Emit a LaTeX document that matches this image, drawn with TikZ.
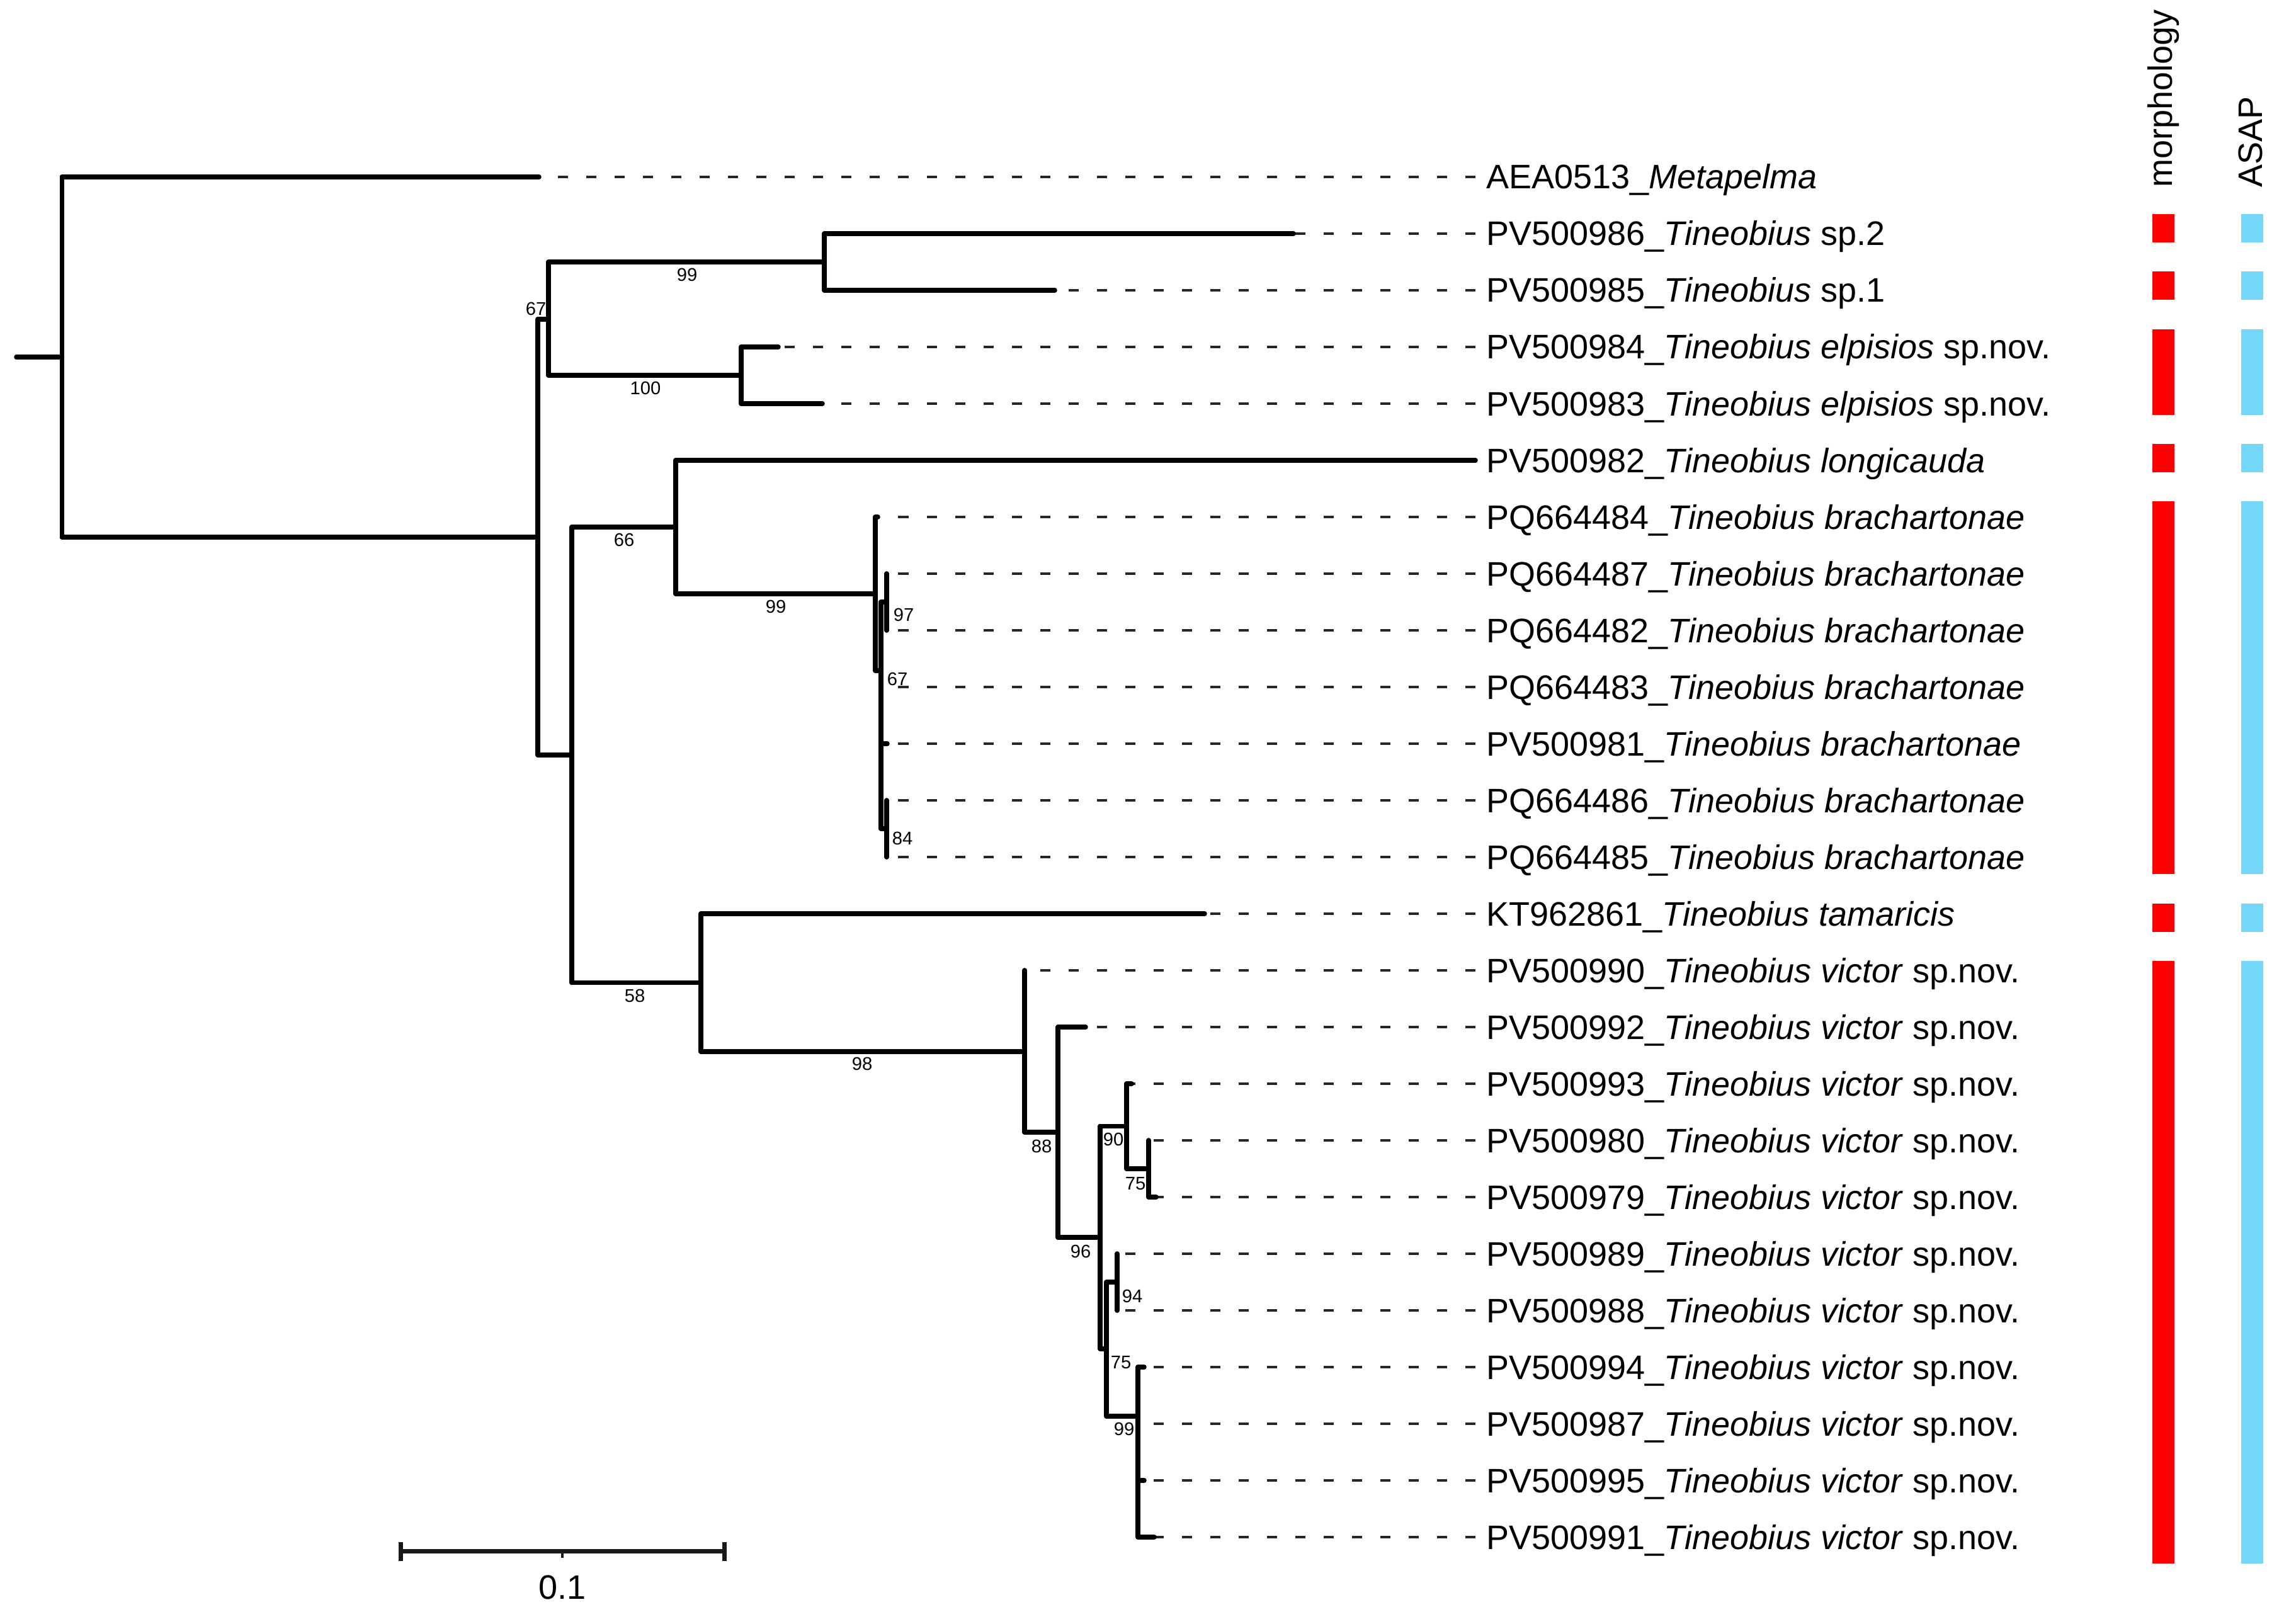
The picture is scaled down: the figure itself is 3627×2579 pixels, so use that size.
\documentclass[tikz,border=0pt]{standalone}
\usepackage{fontspec}
\setmainfont{Liberation Sans}
\definecolor{morphred}{RGB}{255,0,0}
\definecolor{asapblue}{RGB}{115,215,250}
\tikzset{
  branch/.style={line width=0.075cm, line cap=round, black},
  dashline/.style={line width=0.032cm, dash pattern=on 0.16cm off 0.29cm, black!85},
  tiplab/.style={anchor=base west, inner sep=0pt, font=\fontsize{15.35}{18}\selectfont},
  suplab/.style={anchor=center, inner sep=0pt, font=\fontsize{8.3}{10}\selectfont},
  hdr/.style={rotate=90, anchor=base west, inner sep=0pt, font=\fontsize{15.35}{18}\selectfont},
  scalebar/.style={line width=0.07cm, black!90},
}
\begin{document}
\begin{tikzpicture}[x=0.01cm, y=-0.01cm]
\useasboundingbox (0,0) rectangle (3627,2579);

% tip end points and dash ends
\foreach \i/\xe in {0/856,1/2054,2/1675,3/1236,4/1306,5/2343,6/1394,7/1408,8/1408,9/1399,10/1409,11/1408,12/1408,13/1913,14/1627,15/1724,16/1797,17/1824,18/1836,19/1774,20/1774,21/1817,22/1807,23/1817,24/1833}{
  \coordinate (e\i) at (\xe,{281+90*\i});
  \coordinate (d\i) at (2343,{281+90*\i});
}

% internal nodes
\coordinate (Rs) at (26,567);
\coordinate (R) at (98.5,567);
\coordinate (I) at (854,853);
\coordinate (A) at (871,507);
\coordinate (S) at (1309,416);
\coordinate (E) at (1177,596);
\coordinate (B) at (908,1199);
\coordinate (C) at (1073,837);
\coordinate (B1) at (1390,943);
\coordinate (B2) at (1399,1065);
\coordinate (B3) at (1408,956);
\coordinate (B4) at (1408,1316);
\coordinate (D) at (1113,1560.5);
\coordinate (V1) at (1627,1670);
\coordinate (V2) at (1680,1798);
\coordinate (V3) at (1747,1965);
\coordinate (V4) at (1789,1788.5);
\coordinate (V5) at (1824,1856);
\coordinate (V6) at (1757,2142);
\coordinate (V7) at (1774,2036);
\coordinate (V8) at (1807,2249);

% dashed leaders
\foreach \i in {0,1,2,3,4,6,7,8,9,10,11,12,13,14,15,16,17,18,19,20,21,22,23,24}{
  \draw[dashline] (d\i) -- (e\i);
}

% branches
\draw[branch] (Rs) -- (R);
\foreach \p/\c in {R/e0,R/I,I/A,I/B,A/S,A/E,S/e1,S/e2,E/e3,E/e4,B/C,B/D,C/e5,C/B1,B1/e6,B1/B2,B2/B3,B2/e9,B2/e10,B2/B4,B3/e7,B3/e8,B4/e11,B4/e12,D/e13,D/V1,V1/e14,V1/V2,V2/e15,V2/V3,V3/V4,V3/V6,V4/e16,V4/V5,V5/e17,V5/e18,V6/V7,V6/V8,V7/e19,V7/e20,V8/e21,V8/e22,V8/e23,V8/e24}{
  \draw[branch] (\p |- \c) -- (\c);
}
\foreach \p/\a/\b in {R/e0/I,I/A/B,A/S/E,S/e1/e2,E/e3/e4,B/C/D,C/e5/B1,B1/e6/B2,B2/B3/B4,B3/e7/e8,B4/e11/e12,D/e13/V1,V1/e14/V2,V2/e15/V3,V3/V4/V6,V4/e16/V5,V5/e17/e18,V6/V7/V8,V7/e19/e20,V8/e21/e24}{
  \draw[branch] (\p |- \a) -- (\p |- \b);
}

% tip labels
\node[tiplab] (t0) at (2360,300) {AEA0513\_\textit{Metapelma}};
\node[tiplab] (t1) at (2360,390) {PV500986\_\textit{Tineobius} sp.2};
\node[tiplab] (t2) at (2360,480) {PV500985\_\textit{Tineobius} sp.1};
\node[tiplab] (t3) at (2360,570) {PV500984\_\textit{Tineobius elpisios} sp.nov.};
\node[tiplab] (t4) at (2360,660) {PV500983\_\textit{Tineobius elpisios} sp.nov.};
\node[tiplab] (t5) at (2360,750) {PV500982\_\textit{Tineobius longicauda}};
\node[tiplab] (t6) at (2360,840) {PQ664484\_\textit{Tineobius brachartonae}};
\node[tiplab] (t7) at (2360,930) {PQ664487\_\textit{Tineobius brachartonae}};
\node[tiplab] (t8) at (2360,1020) {PQ664482\_\textit{Tineobius brachartonae}};
\node[tiplab] (t9) at (2360,1110) {PQ664483\_\textit{Tineobius brachartonae}};
\node[tiplab] (t10) at (2360,1200) {PV500981\_\textit{Tineobius brachartonae}};
\node[tiplab] (t11) at (2360,1290) {PQ664486\_\textit{Tineobius brachartonae}};
\node[tiplab] (t12) at (2360,1380) {PQ664485\_\textit{Tineobius brachartonae}};
\node[tiplab] (t13) at (2360,1470) {KT962861\_\textit{Tineobius tamaricis}};
\node[tiplab] (t14) at (2360,1560) {PV500990\_\textit{Tineobius victor} sp.nov.};
\node[tiplab] (t15) at (2360,1650) {PV500992\_\textit{Tineobius victor} sp.nov.};
\node[tiplab] (t16) at (2360,1740) {PV500993\_\textit{Tineobius victor} sp.nov.};
\node[tiplab] (t17) at (2360,1830) {PV500980\_\textit{Tineobius victor} sp.nov.};
\node[tiplab] (t18) at (2360,1920) {PV500979\_\textit{Tineobius victor} sp.nov.};
\node[tiplab] (t19) at (2360,2010) {PV500989\_\textit{Tineobius victor} sp.nov.};
\node[tiplab] (t20) at (2360,2100) {PV500988\_\textit{Tineobius victor} sp.nov.};
\node[tiplab] (t21) at (2360,2190) {PV500994\_\textit{Tineobius victor} sp.nov.};
\node[tiplab] (t22) at (2360,2280) {PV500987\_\textit{Tineobius victor} sp.nov.};
\node[tiplab] (t23) at (2360,2370) {PV500995\_\textit{Tineobius victor} sp.nov.};
\node[tiplab] (t24) at (2360,2460) {PV500991\_\textit{Tineobius victor} sp.nov.};

% support values
\node[suplab] (s1) at (851,490) {67};
\node[suplab] (s2) at (1091,436) {99};
\node[suplab] (s3) at (1025,616) {100};
\node[suplab] (s4) at (991,857) {66};
\node[suplab] (s5) at (1232,963) {99};
\node[suplab] (s6) at (1435,976) {97};
\node[suplab] (s7) at (1425,1078) {67};
\node[suplab] (s8) at (1433,1331) {84};
\node[suplab] (s9) at (1008,1581) {58};
\node[suplab] (s10) at (1369,1689) {98};
\node[suplab] (s11) at (1654,1820) {88};
\node[suplab] (s12) at (1716,1987) {96};
\node[suplab] (s13) at (1768,1809) {90};
\node[suplab] (s14) at (1803,1880) {75};
\node[suplab] (s15) at (1798,2058) {94};
\node[suplab] (s16) at (1780,2164) {75};
\node[suplab] (s17) at (1785,2269) {99};

% scale bar
\coordinate (sbL) at (636,2463);
\coordinate (sbR) at (1150,2463);
\coordinate (sbM) at (893,2463);
\draw[scalebar] (sbL) -- (sbR);
\draw[scalebar] (636,2449) -- (636,2479);
\draw[scalebar] (1150,2449) -- (1150,2479);
\draw[line width=0.04cm, black!90] (sbM) -- (893,2474);
\node[tiplab, anchor=center] (sblab) at (893,2521) {0.1};

% delimitation bars
\foreach \a/\b in {1/1,2/2,3/4,5/5,6/12,13/13,14/24}{
  \fill[morphred] (3418,{249+91.2*\a}) rectangle (3453,{294+91.2*\b});
  \fill[asapblue] (3559,{249+91.2*\a}) rectangle (3594,{294+91.2*\b});
}
\node[hdr] (hm) at (3449,298) {morphology};
\node[hdr] (ha) at (3592,298) {ASAP};
\end{tikzpicture}
\end{document}
